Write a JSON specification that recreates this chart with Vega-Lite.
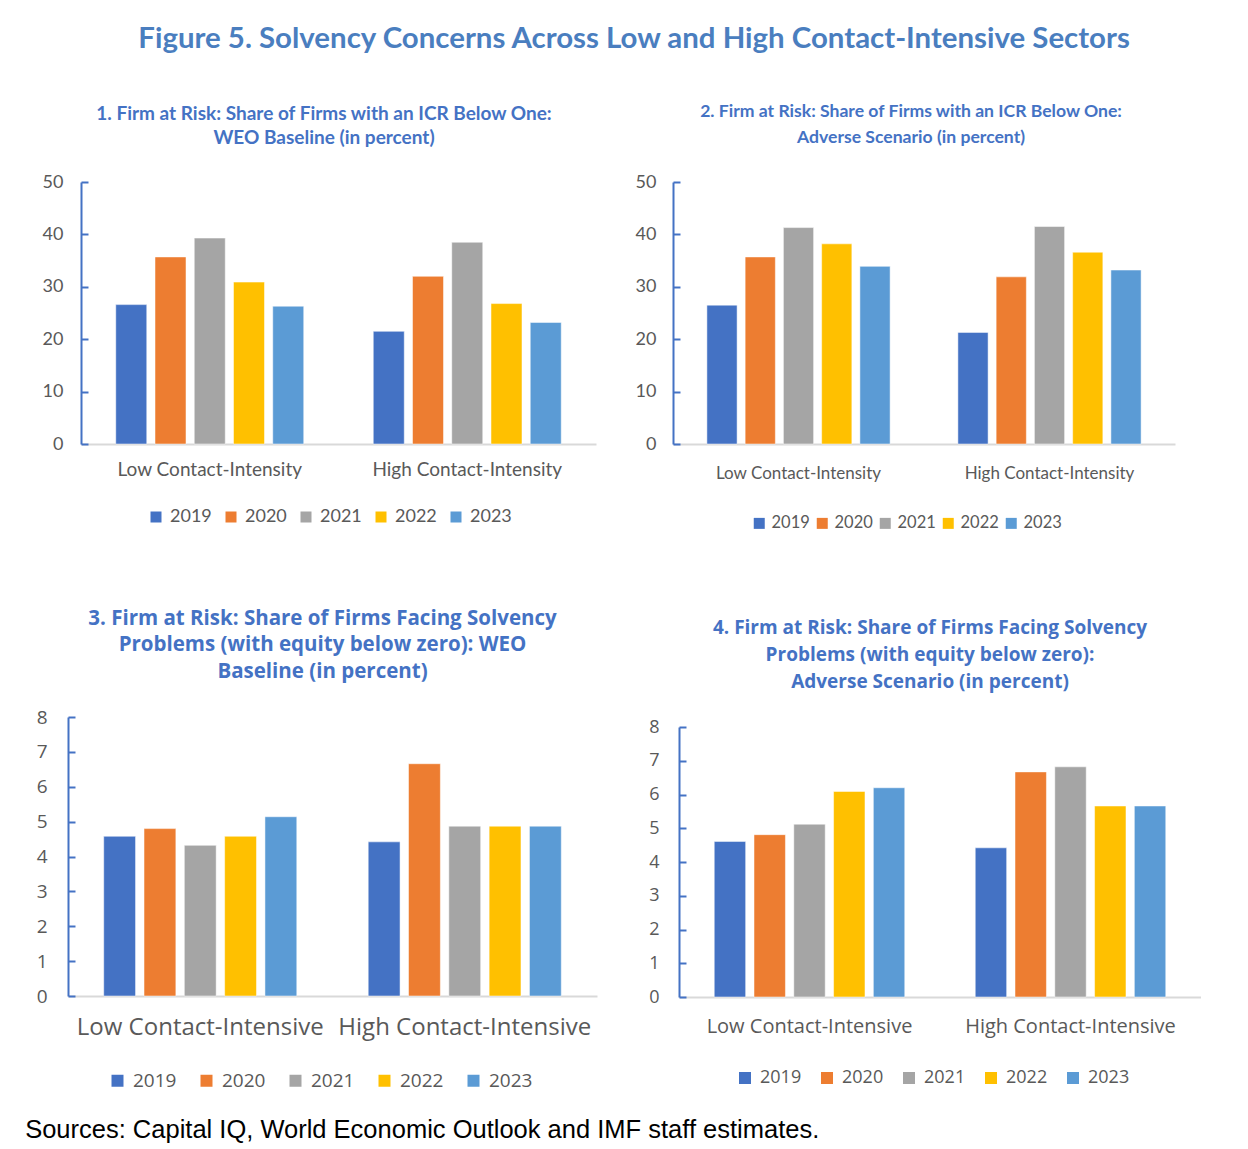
{
  "$schema": "https://vega.github.io/schema/vega-lite/v6.json",
  "padding": {"left": 25, "top": 24, "right": 0, "bottom": 0},
  "background": "white",
  "config": {
    "font": "Lato",
    "view": {"stroke": null},
    "axis": {"grid": false, "labelColor": "#595959", "title": null, "labelLimit": 400},
    "legend": {"symbolType": "square", "symbolSize": 121, "symbolStrokeWidth": 0, "labelColor": "#595959", "title": null, "direction": "horizontal", "orient": "none", "padding": 0}
  },
  "title": {"text": "Figure 5. Solvency Concerns Across Low and High Contact-Intensive Sectors", "font": "Lato", "fontSize": 29.4, "fontWeight": "bold", "color": "#4A7EBF", "anchor": "middle", "dx": 21, "offset": 49},
  "datasets": {
    "d": [
      {"panel": 1, "sector": "Low Contact-Intensity", "year": "2019", "value": 26.6},
      {"panel": 1, "sector": "Low Contact-Intensity", "year": "2020", "value": 35.7},
      {"panel": 1, "sector": "Low Contact-Intensity", "year": "2021", "value": 39.3},
      {"panel": 1, "sector": "Low Contact-Intensity", "year": "2022", "value": 30.9},
      {"panel": 1, "sector": "Low Contact-Intensity", "year": "2023", "value": 26.3},
      {"panel": 1, "sector": "High Contact-Intensity", "year": "2019", "value": 21.5},
      {"panel": 1, "sector": "High Contact-Intensity", "year": "2020", "value": 32.0},
      {"panel": 1, "sector": "High Contact-Intensity", "year": "2021", "value": 38.5},
      {"panel": 1, "sector": "High Contact-Intensity", "year": "2022", "value": 26.8},
      {"panel": 1, "sector": "High Contact-Intensity", "year": "2023", "value": 23.2},
      {"panel": 2, "sector": "Low Contact-Intensity", "year": "2019", "value": 26.5},
      {"panel": 2, "sector": "Low Contact-Intensity", "year": "2020", "value": 35.7},
      {"panel": 2, "sector": "Low Contact-Intensity", "year": "2021", "value": 41.3},
      {"panel": 2, "sector": "Low Contact-Intensity", "year": "2022", "value": 38.2},
      {"panel": 2, "sector": "Low Contact-Intensity", "year": "2023", "value": 33.9},
      {"panel": 2, "sector": "High Contact-Intensity", "year": "2019", "value": 21.3},
      {"panel": 2, "sector": "High Contact-Intensity", "year": "2020", "value": 31.9},
      {"panel": 2, "sector": "High Contact-Intensity", "year": "2021", "value": 41.5},
      {"panel": 2, "sector": "High Contact-Intensity", "year": "2022", "value": 36.6},
      {"panel": 2, "sector": "High Contact-Intensity", "year": "2023", "value": 33.2},
      {"panel": 3, "sector": "Low Contact-Intensive", "year": "2019", "value": 4.58},
      {"panel": 3, "sector": "Low Contact-Intensive", "year": "2020", "value": 4.80},
      {"panel": 3, "sector": "Low Contact-Intensive", "year": "2021", "value": 4.32},
      {"panel": 3, "sector": "Low Contact-Intensive", "year": "2022", "value": 4.58},
      {"panel": 3, "sector": "Low Contact-Intensive", "year": "2023", "value": 5.14},
      {"panel": 3, "sector": "High Contact-Intensive", "year": "2019", "value": 4.42},
      {"panel": 3, "sector": "High Contact-Intensive", "year": "2020", "value": 6.66},
      {"panel": 3, "sector": "High Contact-Intensive", "year": "2021", "value": 4.87},
      {"panel": 3, "sector": "High Contact-Intensive", "year": "2022", "value": 4.87},
      {"panel": 3, "sector": "High Contact-Intensive", "year": "2023", "value": 4.87},
      {"panel": 4, "sector": "Low Contact-Intensive", "year": "2019", "value": 4.61},
      {"panel": 4, "sector": "Low Contact-Intensive", "year": "2020", "value": 4.81},
      {"panel": 4, "sector": "Low Contact-Intensive", "year": "2021", "value": 5.12},
      {"panel": 4, "sector": "Low Contact-Intensive", "year": "2022", "value": 6.09},
      {"panel": 4, "sector": "Low Contact-Intensive", "year": "2023", "value": 6.20},
      {"panel": 4, "sector": "High Contact-Intensive", "year": "2019", "value": 4.42},
      {"panel": 4, "sector": "High Contact-Intensive", "year": "2020", "value": 6.67},
      {"panel": 4, "sector": "High Contact-Intensive", "year": "2021", "value": 6.82},
      {"panel": 4, "sector": "High Contact-Intensive", "year": "2022", "value": 5.66},
      {"panel": 4, "sector": "High Contact-Intensive", "year": "2023", "value": 5.66}
    ]
  },
  "data": {"name": "d"},
  "spacing": 76,
  "resolve": {"scale": {"x": "independent", "y": "independent", "color": "independent", "xOffset": "independent"}, "legend": {"color": "independent"}},
  "vconcat": [
    {
      "spacing": 39,
      "resolve": {"scale": {"x": "independent", "y": "independent", "color": "independent", "xOffset": "independent"}, "legend": {"color": "independent"}},
      "hconcat": [
        {
          "width": 528, "height": 262,
          "title": {"text": ["1. Firm at Risk: Share of Firms with an ICR Below One:", "WEO Baseline (in percent)"], "font": "Lato", "fontSize": 19, "fontWeight": "bold", "color": "#4472C4", "lineHeight": 24, "offset": 25, "anchor": "middle", "dx": -8},
          "transform": [{"filter": "datum.panel == 1"}],
          "mark": {"type": "bar", "stroke": "white", "strokeWidth": 0.5},
          "encoding": {
            "x": {"field": "sector", "type": "nominal", "sort": ["Low Contact-Intensity", "High Contact-Intensity"], "scale": {"range": [13, 528], "paddingInner": 0.27, "paddingOuter": 0.135},
                  "axis": {"labelAngle": 0, "labelFontSize": 19, "labelPadding": 16, "ticks": false, "domainColor": "#D9D9D9", "domainWidth": 2}},
            "xOffset": {"field": "year", "type": "nominal", "scale": {"paddingInner": 0.21, "paddingOuter": 0}},
            "y": {"field": "value", "type": "quantitative", "scale": {"domain": [0, 50], "nice": false},
                  "axis": {"offset": -13, "values": [0, 10, 20, 30, 40, 50], "labelFontSize": 18, "labelPadding": 25, "tickSize": -7, "tickWidth": 2, "tickColor": "#4472C4", "domainColor": "#4472C4", "domainWidth": 2}},
            "color": {"field": "year", "type": "nominal", "scale": {"domain": ["2019", "2020", "2021", "2022", "2023"], "range": ["#4472C4", "#ED7D31", "#A5A5A5", "#FFC000", "#5B9BD5"]},
                      "legend": {"legendX": 79, "legendY": 326, "labelFontSize": 18, "columnPadding": 10, "labelOffset": 5}}
          }
        },
        {
          "width": 502, "height": 262,
          "title": {"text": ["2. Firm at Risk: Share of Firms with an ICR Below One:", "Adverse Scenario (in percent)"], "font": "Lato", "fontSize": 17.6, "fontWeight": "bold", "color": "#4472C4", "lineHeight": 26, "offset": 26, "anchor": "middle", "dx": -13},
          "transform": [{"filter": "datum.panel == 2"}],
          "mark": {"type": "bar", "stroke": "white", "strokeWidth": 0.5},
          "encoding": {
            "x": {"field": "sector", "type": "nominal", "sort": ["Low Contact-Intensity", "High Contact-Intensity"], "scale": {"paddingInner": 0.27, "paddingOuter": 0.135},
                  "axis": {"labelAngle": 0, "labelFontSize": 17, "labelPadding": 21, "ticks": false, "domainColor": "#D9D9D9", "domainWidth": 2}},
            "xOffset": {"field": "year", "type": "nominal", "scale": {"paddingInner": 0.21, "paddingOuter": 0}},
            "y": {"field": "value", "type": "quantitative", "scale": {"domain": [0, 50], "nice": false},
                  "axis": {"values": [0, 10, 20, 30, 40, 50], "labelFontSize": 18, "labelPadding": 24, "tickSize": -7, "tickWidth": 2, "tickColor": "#4472C4", "domainColor": "#4472C4", "domainWidth": 2}},
            "color": {"field": "year", "type": "nominal", "scale": {"domain": ["2019", "2020", "2021", "2022", "2023"], "range": ["#4472C4", "#ED7D31", "#A5A5A5", "#FFC000", "#5B9BD5"]},
                      "legend": {"legendX": 78, "legendY": 333, "labelFontSize": 16.5, "columnPadding": 4, "labelOffset": 4}}
          }
        }
      ]
    },
    {
      "spacing": 51,
      "resolve": {"scale": {"x": "independent", "y": "independent", "color": "independent", "xOffset": "independent"}, "legend": {"color": "independent"}},
      "title": {"text": "Sources: Capital IQ, World Economic Outlook and IMF staff estimates.", "orient": "bottom", "anchor": "start", "font": "Liberation Sans", "fontSize": 25.5, "fontWeight": "normal", "color": "#000000", "offset": 27, "dx": -11},
      "hconcat": [
        {
          "width": 529, "height": 279,
          "title": {"text": ["3. Firm at Risk: Share of Firms Facing Solvency", "Problems (with equity below zero): WEO", "Baseline (in percent)"], "font": "Open Sans", "fontSize": 20.5, "fontWeight": "bold", "color": "#4472C4", "lineHeight": 26.5, "offset": 26, "anchor": "middle", "dx": -10},
          "transform": [{"filter": "datum.panel == 3"}],
          "mark": {"type": "bar", "stroke": "white", "strokeWidth": 0.5},
          "encoding": {
            "x": {"field": "sector", "type": "nominal", "sort": ["Low Contact-Intensive", "High Contact-Intensive"], "scale": {"paddingInner": 0.27, "paddingOuter": 0.135},
                  "axis": {"labelAngle": 0, "labelFont": "Open Sans", "labelFontSize": 24, "labelPadding": 19, "ticks": false, "domainColor": "#D9D9D9", "domainWidth": 2}},
            "xOffset": {"field": "year", "type": "nominal", "scale": {"paddingInner": 0.21, "paddingOuter": 0}},
            "y": {"field": "value", "type": "quantitative", "scale": {"domain": [0, 8], "nice": false},
                  "axis": {"values": [0, 1, 2, 3, 4, 5, 6, 7, 8], "labelFont": "Open Sans", "labelFontSize": 19, "labelPadding": 28, "tickSize": -7, "tickWidth": 2, "tickColor": "#4472C4", "domainColor": "#4472C4", "domainWidth": 2}},
            "color": {"field": "year", "type": "nominal", "scale": {"domain": ["2019", "2020", "2021", "2022", "2023"], "range": ["#4472C4", "#ED7D31", "#A5A5A5", "#FFC000", "#5B9BD5"]},
                      "legend": {"legendX": 40, "legendY": 354, "labelFont": "Open Sans", "labelFontSize": 19, "columnPadding": 20, "labelOffset": 6, "symbolSize": 144}}
          }
        },
        {
          "width": 522, "height": 280,
          "title": {"text": ["4. Firm at Risk: Share of Firms Facing Solvency", "Problems (with equity below zero):", "Adverse Scenario (in percent)"], "font": "Open Sans", "fontSize": 19, "fontWeight": "bold", "color": "#4472C4", "lineHeight": 27, "offset": 25, "anchor": "middle", "dx": -10},
          "transform": [{"filter": "datum.panel == 4"}],
          "mark": {"type": "bar", "stroke": "white", "strokeWidth": 0.5},
          "encoding": {
            "x": {"field": "sector", "type": "nominal", "sort": ["Low Contact-Intensive", "High Contact-Intensive"], "scale": {"paddingInner": 0.27, "paddingOuter": 0.135},
                  "axis": {"labelAngle": 0, "labelFont": "Open Sans", "labelFontSize": 20, "labelPadding": 19, "ticks": false, "domainColor": "#D9D9D9", "domainWidth": 2}},
            "xOffset": {"field": "year", "type": "nominal", "scale": {"paddingInner": 0.21, "paddingOuter": 0}},
            "y": {"field": "value", "type": "quantitative", "scale": {"domain": [0, 8], "nice": false, "range": [280, 10]},
                  "axis": {"values": [0, 1, 2, 3, 4, 5, 6, 7, 8], "labelFont": "Open Sans", "labelFontSize": 18, "labelPadding": 27, "tickSize": -7, "tickWidth": 2, "tickColor": "#4472C4", "domainColor": "#4472C4", "domainWidth": 2}},
            "color": {"field": "year", "type": "nominal", "scale": {"domain": ["2019", "2020", "2021", "2022", "2023"], "range": ["#4472C4", "#ED7D31", "#A5A5A5", "#FFC000", "#5B9BD5"]},
                      "legend": {"legendX": 57, "legendY": 352, "labelFont": "Open Sans", "labelFontSize": 18, "columnPadding": 16, "labelOffset": 6, "symbolSize": 144}}
          }
        }
      ]
    }
  ]
}
